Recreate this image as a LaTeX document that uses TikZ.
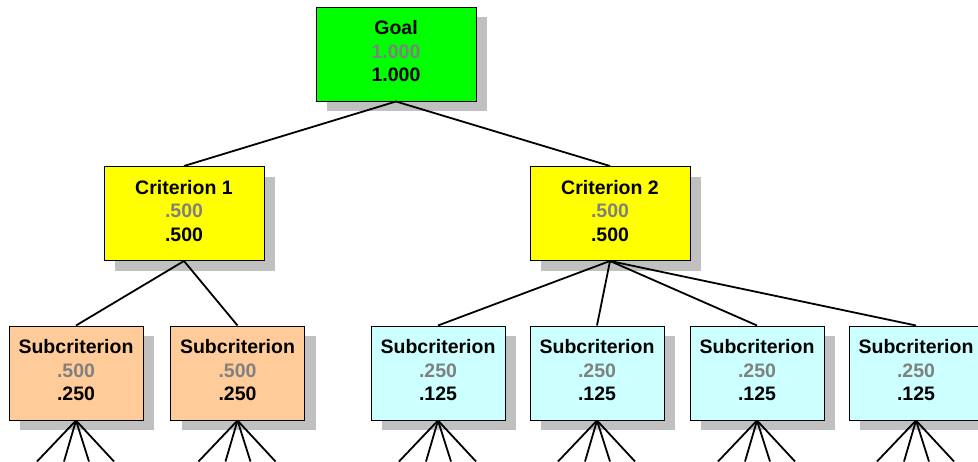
\documentclass[tikz,border=0pt]{standalone}
\usepackage{fontspec}
\setmainfont{Liberation Sans}
\usetikzlibrary{shadows}
\definecolor{goalgreen}{HTML}{00FF00}
\definecolor{crityellow}{HTML}{FFFF00}
\definecolor{suborange}{HTML}{FFCC99}
\definecolor{subcyan}{HTML}{CCFFFF}
\definecolor{shadowgray}{HTML}{C0C0C0}
\definecolor{valgray}{HTML}{808080}
\newcommand\lowstrut{\rule[-6pt]{0pt}{6pt}}
\begin{document}
\begin{tikzpicture}[x=1pt,y=-1pt,
  box/.style={draw=black,line width=1pt,minimum width=160pt,minimum height=94pt,
    inner sep=0pt,align=center,font=\bfseries\fontsize{19.5}{23.5}\selectfont,
    drop shadow={shadow xshift=11pt,shadow yshift=-10pt,fill=shadowgray,opacity=1}},
  subbox/.style={box,minimum width=134pt},
  link/.style={line width=1.8pt}]
\useasboundingbox (0,0) rectangle (978,461);
\clip (0,0) rectangle (978,461);
% top level
\node[box,fill=goalgreen] (goal) at (396,54) {Goal\\\textcolor{valgray}{1.000}\\1.000\lowstrut};
% criteria
\node[box,fill=crityellow] (crit1) at (184,213.5) {Criterion 1\\\textcolor{valgray}{.500}\\.500\lowstrut};
\node[box,fill=crityellow] (crit2) at (610,213.5) {Criterion 2\\\textcolor{valgray}{.500}\\.500\lowstrut};
% subcriteria
\node[subbox,fill=suborange] (sub1) at (76,373) {Subcriterion\\\textcolor{valgray}{.500}\\.250\lowstrut};
\node[subbox,fill=suborange] (sub2) at (237.5,373) {Subcriterion\\\textcolor{valgray}{.500}\\.250\lowstrut};
\foreach \n/\x in {3/438,4/597,5/757,6/916}
  \node[subbox,fill=subcyan] (sub\n) at (\x,373) {Subcriterion\\\textcolor{valgray}{.250}\\.125\lowstrut};
% links
\draw[link] (goal.south) -- (crit1.north);
\draw[link] (goal.south) -- (crit2.north);
\draw[link] (crit1.south) -- (sub1.north);
\draw[link] (crit1.south) -- (sub2.north);
\foreach \n in {3,...,6}
  \draw[link] (crit2.south) -- (sub\n.north);
% lower links, cut by the frame
\foreach \n in {1,...,6}
  \foreach \k/\dx in {a/-39,b/-12,c/13,d/38}{
    \coordinate (low\n\k) at ([xshift=\dx pt,yshift=-41pt]sub\n.south);
    \draw[link] (sub\n.south) -- (low\n\k);
  }
\end{tikzpicture}
\end{document}
